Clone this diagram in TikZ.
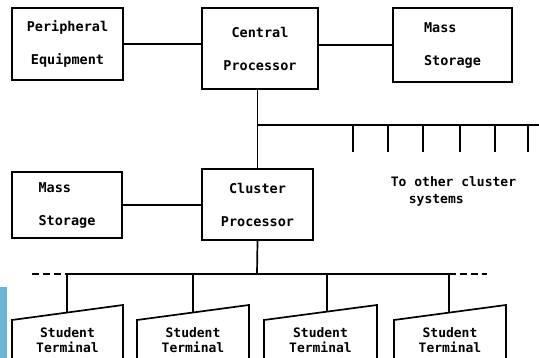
\documentclass[tikz,border=0pt]{standalone}
\usepackage{fontspec}
\setmonofont{DejaVu Sans Mono}
\usetikzlibrary{positioning}
\definecolor{scanblue}{RGB}{107,182,214}

\begin{document}
\begin{tikzpicture}[x=1pt,y=-1pt]
\tikzset{
  unitbox/.style={draw,line width=1.7pt,rectangle,inner sep=0pt,
    font=\ttfamily\bfseries\fontsize{13.5}{33}\selectfont},
  notetext/.style={inner sep=0pt,align=left,
    font=\ttfamily\bfseries\fontsize{13}{17}\selectfont},
  termtext/.style={inner sep=0pt,align=center,
    font=\ttfamily\bfseries\fontsize{13}{15}\selectfont},
  link/.style={line width=1.7pt},
  busdash/.style={line width=1.7pt,dash pattern=on 7pt off 4pt},
  termbox/.style={line width=1.7pt,line join=miter}
}
\useasboundingbox (0,0) rectangle (539,358);
\fill[scanblue] (0,287) rectangle (7,358);
% upper row
\node[unitbox,minimum width=111pt,minimum height=72pt,align=center] (periph) at (67.5,44) {Peripheral\\Equipment};
\node[unitbox,minimum width=116pt,minimum height=81pt,align=center] (central) at (260,48.5) {Central\\Processor};
\node[unitbox,minimum width=119pt,minimum height=74pt,align=left] (massA) at (452.5,45) {Mass\\Storage};
\draw[link] (periph.east) -- (periph.east -| central.west);
\draw[link] (central.east |- massA.west) -- (massA.west);
% cluster level
\node[unitbox,minimum width=111pt,minimum height=71pt,align=center] (cluster) at (257.5,204.5) {Cluster\\Processor};
\node[unitbox,minimum width=110pt,minimum height=66pt,align=left] (massB) at (67,205) {Mass\\Storage};
\draw[link] (massB.east) -- (massB.east -| cluster.west);
\draw[link] (cluster.north |- central.south) -- (cluster.north);
% link to other clusters
\coordinate (tap) at (257,125);
\coordinate (tapend) at (540,125);
\draw[link] (tap) -- (tapend);
\foreach \x [count=\i] in {353,388,423,460,495,528}{
  \coordinate (tick\i) at (\x,125);
  \draw[link] (tick\i) -- ++(0,27);
}
\node[notetext] (others) at (453.5,191.5) {To other cluster\\\hspace*{18pt}systems};
% terminal bus
\coordinate (hub) at (257,274);
\coordinate (busL) at (32,274);
\coordinate (busR) at (487,274);
\draw[link] (cluster.south) -- (hub);
\draw[busdash] (busL) -- (67,274);
\draw[busdash] (449,274) -- (busR);
\draw[link] (67,274) -- (449,274);
\foreach \name/\xl/\xr/\xd in {termA/12/123/67,termB/137/249/193,termC/264/377/327,termD/394/506/449}{
  \draw[termbox] (\xl,362) -- (\xl,320) -- (\xr,305) -- (\xr,362) -- cycle;
  \node[termtext] (\name) at ({(\xl+\xr)/2},340) {Student\\Terminal};
  \coordinate (\name drop) at (\xd,274);
  \coordinate (\name top) at (\xd,{320-15*(\xd-\xl)/(\xr-\xl)});
  \draw[link] (\name drop) -- (\name top);
}
\end{tikzpicture}
\end{document}
